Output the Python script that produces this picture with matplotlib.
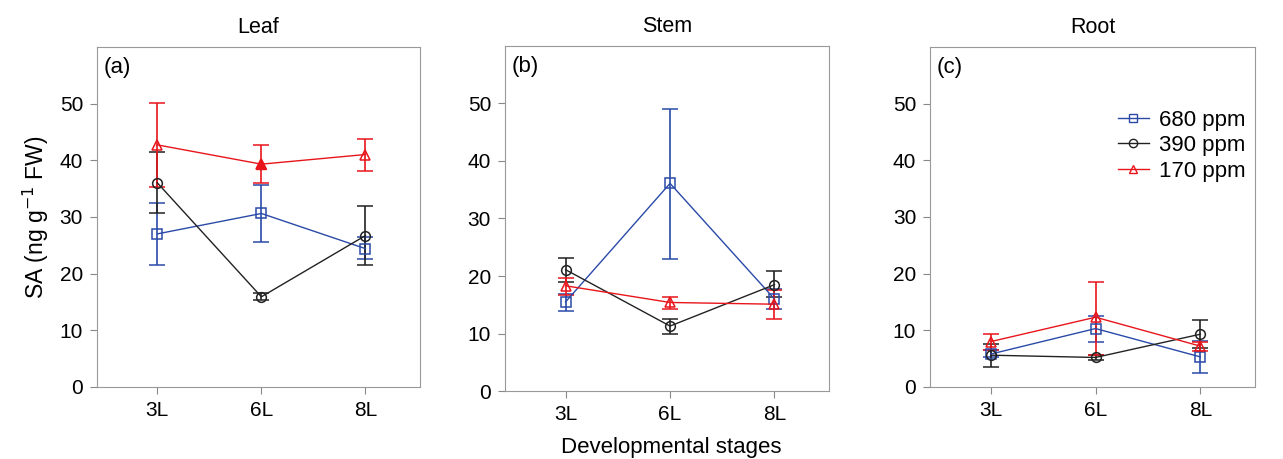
import matplotlib
matplotlib.use("Agg")
import matplotlib.pyplot as plt
from matplotlib.lines import Line2D
import numpy as np

plt.rcParams["font.family"] = ["Liberation Sans", "DejaVu Sans"]

stages = ["3L", "6L", "8L"]
tissues = ["Leaf", "Stem", "Root"]
panel_tags = ["(a)", "(b)", "(c)"]
series_names = ["680 ppm", "390 ppm", "170 ppm"]

# means per tissue, per series (680, 390, 170)
leaf_mean = [[27.0, 30.6, 24.4], [36.0, 15.9, 26.7], [42.7, 39.3, 41.0]]
leaf_lo = [[21.5, 25.5, 22.5], [30.6, 15.3, 21.5], [35.3, 35.9, 38.1]]
leaf_hi = [[32.5, 35.7, 26.5], [41.4, 16.6, 32.0], [50.1, 42.7, 43.8]]

stem_mean = [[15.5, 36.1, 16.0], [21.1, 11.3, 18.5], [18.3, 15.4, 15.1]]
stem_lo = [[14.0, 22.9, 14.2], [19.0, 10.0, 16.4], [16.7, 14.2, 12.6]]
stem_hi = [[16.8, 49.0, 17.8], [23.1, 12.5, 20.8], [19.6, 16.4, 17.5]]

root_mean = [[5.8, 10.3, 5.3], [5.6, 5.2, 9.3], [8.0, 12.3, 7.2]]
root_lo = [[5.2, 8.0, 2.5], [3.5, 4.8, 6.8], [6.5, 5.6, 6.4]]
root_hi = [[6.5, 12.5, 8.1], [7.5, 5.6, 11.8], [9.3, 18.5, 8.0]]

colors = ["#2a4aa8", "#222222", "#e8151b"]
markers = ["s", "o", "^"]

fig = plt.figure(figsize=(12.83, 4.59), dpi=100)
positions = [
    [0.0756, 0.157, 0.2514, 0.741],
    [0.3936, 0.148, 0.2524, 0.752],
    [0.7249, 0.157, 0.2531, 0.741],
]
data = [(leaf_mean, leaf_lo, leaf_hi), (stem_mean, stem_lo, stem_hi), (root_mean, root_lo, root_hi)]
x = np.arange(1, 4)

for k, (pos, (means, los, his)) in enumerate(zip(positions, data)):
    ax = fig.add_axes(pos)
    for i in range(3):
        m = np.array(means[i])
        err = np.vstack([m - np.array(los[i]), np.array(his[i]) - m])
        ax.errorbar(x, m, yerr=err, color=colors[i], marker=markers[i],
                    markersize=7, markerfacecolor="none", markeredgewidth=1.1,
                    linewidth=1.0, elinewidth=1.2, capsize=6, capthick=1.2)
    if k == 0:
        # filled triangle at leaf 6L
        ax.plot(x[1], leaf_mean[2][1], marker="^", markersize=7, color=colors[2], linestyle="none")
    ax.set_xlim(0.42, 3.52)
    ax.set_ylim(0, 60)
    ax.set_yticks(range(0, 51, 10))
    ax.set_xticks(x)
    ax.set_xticklabels(stages)
    ax.tick_params(labelsize=15, direction="out", length=5, pad=5, color="#888888")
    for s in ax.spines.values():
        s.set_color("#999999")
    ax.set_title(tissues[k], fontsize=15.5, pad=10)
    ax.text(0.02, 0.97, panel_tags[k], transform=ax.transAxes, fontsize=16, va="top", ha="left")
    if k == 0:
        ax.set_ylabel("SA (ng g$^{-1}$ FW)", fontsize=16.5, labelpad=6)
    if k == 2:
        handles = [Line2D([], [], color=colors[i], marker=markers[i], markersize=6,
                          markerfacecolor="none", linewidth=1.0) for i in range(3)]
        ax.legend(handles, series_names, loc="upper left", bbox_to_anchor=(0.578, 0.815),
                  frameon=False, fontsize=16, borderpad=0, borderaxespad=0,
                  handlelength=1.4, handletextpad=0.45, labelspacing=0.2)

fig.text(0.523, 0.013, "Developmental stages", fontsize=16, ha="center", va="baseline")

fig.savefig("out.png", dpi=100)
